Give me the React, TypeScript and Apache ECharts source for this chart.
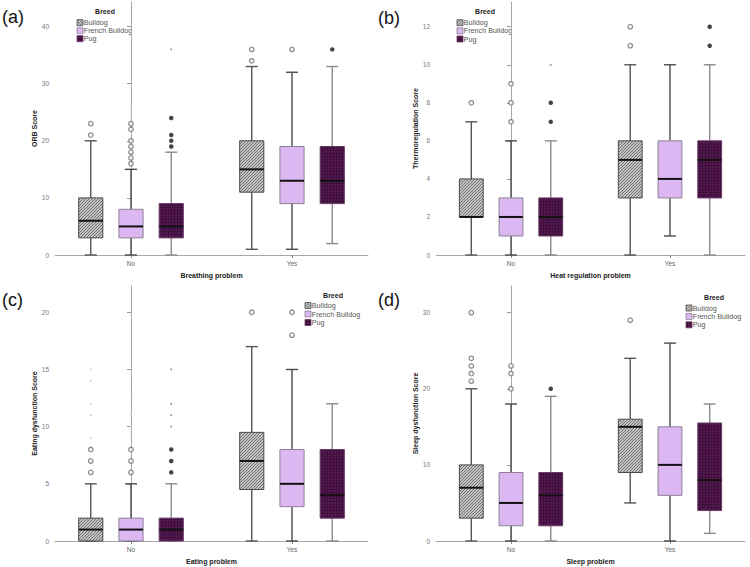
import React, { useEffect, useRef } from 'react';
import * as echarts from 'echarts';

const breeds = ['Bulldog', 'French Bulldog', 'Pug'];
const groups = ['No', 'Yes'];

// Each box: [min whisker, Q1, median, Q3, max whisker], for groups No, Yes
// (a) ORB score
const orbBulldog = [[0, 3, 6, 10, 20], [1, 11, 15, 20, 33]];
const orbFrench = [[0, 3, 5, 8, 15], [1, 9, 13, 19, 32]];
const orbPug = [[0, 3, 5, 9, 18], [2, 9, 13, 19, 33]];
const orbOutliers = [[[21, 23], [34, 36]], [[16, 17, 18, 19, 20, 22, 23], [36]], [[19, 20, 21, 24], [36]]];
const orbExtremes = [[[], []], [[24, 25, 26], []], [[36], []]];
const orbTicks = [0, 10, 20, 30, 40];

// (b) Thermoregulation score
const thermoBulldog = [[0, 2, 2, 4, 7], [0, 3, 5, 6, 10]];
const thermoFrench = [[0, 1, 2, 3, 6], [1, 3, 4, 6, 10]];
const thermoPug = [[0, 1, 2, 3, 6], [0, 3, 5, 6, 10]];
const thermoOutliers = [[[8], [11, 12]], [[7, 8, 9], []], [[7, 8], [11, 12]]];
const thermoExtremes = [[[], []], [[], []], [[10], []]];
const thermoTicks = [0, 2, 4, 6, 8, 10, 12];

// (c) Eating dysfunction score
const eatBulldog = [[0, 0, 1, 2, 5], [0, 4.5, 7, 9.5, 17]];
const eatFrench = [[0, 0, 1, 2, 5], [0, 3, 5, 8, 15]];
const eatPug = [[0, 0, 1, 2, 5], [0, 2, 4, 8, 12]];
const eatOutliers = [[[6, 7, 8], [20]], [[6, 7, 8], [18, 20]], [[6, 7, 8], []]];
const eatExtremes = [[[9, 11, 12, 14, 15], []], [[9, 10, 11, 13], []], [[10, 11, 12, 15], []]];
const eatTicks = [0, 5, 10, 15, 20];

// (d) Sleep dysfunction score
const sleepBulldog = [[0, 3, 7, 10, 20], [5, 9, 15, 16, 24]];
const sleepFrench = [[0, 2, 5, 9, 18], [0, 6, 10, 15, 26]];
const sleepPug = [[0, 2, 6, 9, 19], [1, 4, 8, 15.5, 18]];
const sleepOutliers = [[[21, 22, 23, 24, 30], [29]], [[20, 22, 23], []], [[20], []]];
const sleepExtremes = [[[], []], [[], []], [[], []]];
const sleepTicks = [0, 10, 20, 30];

const panelLetters = ['(a)', '(b)', '(c)', '(d)'];
const yNames = ['ORB Score', 'Thermoregulation Score', 'Eating dysfunction Score', 'Sleep dysfunction Score'];
const xNames = ['Breathing problem', 'Heat regulation problem', 'Eating problem', 'Sleep problem'];
const yMaxes = [44.3, 13.3, 22.3, 33.5];

const panels = [
  { boxes: [orbBulldog, orbFrench, orbPug], outliers: orbOutliers, extremes: orbExtremes, ticks: orbTicks },
  { boxes: [thermoBulldog, thermoFrench, thermoPug], outliers: thermoOutliers, extremes: thermoExtremes, ticks: thermoTicks },
  { boxes: [eatBulldog, eatFrench, eatPug], outliers: eatOutliers, extremes: eatExtremes, ticks: eatTicks },
  { boxes: [sleepBulldog, sleepFrench, sleepPug], outliers: sleepOutliers, extremes: sleepExtremes, ticks: sleepTicks },
];

// layout (pixels)
const grids = [
  { left: 55, top: 2, width: 313, height: 253 },
  { left: 436, top: 2, width: 309, height: 253 },
  { left: 55, top: 286, width: 313, height: 255 },
  { left: 436, top: 286, width: 309, height: 255 },
];
const yNameGaps = [12, 13.5, 12, 13.5];
const letterPos = [[2, 8], [378, 9], [2, 291], [378, 291]];
const legendPos = [
  { sx: 77, tx: 105, ty: 11.7, rows: [22.7, 30.7, 38.7] },
  { sx: 457, tx: 485, ty: 11.7, rows: [22.7, 30.9, 39] },
  { sx: 305, tx: 333, ty: 295.3, rows: [305.5, 314, 322.5] },
  { sx: 686, tx: 714, ty: 297, rows: [308, 316.4, 324.8] },
];

const FONT = "'Liberation Sans', Arial, sans-serif";
const OFFSET = 0.25; // breed offset within a group (x units)
const BOX_W = 0.15; // box width (x units)

export default function App() {
  const ref = useRef<HTMLDivElement>(null);
  useEffect(() => {
    if (!ref.current) return;
    const chart = echarts.init(ref.current, null, { renderer: 'svg' });

    const tile = (size: number, draw: (c: CanvasRenderingContext2D) => void) => {
      const c = document.createElement('canvas');
      c.width = size;
      c.height = size;
      const ctx = c.getContext('2d')!;
      draw(ctx);
      return c;
    };
    const hatch = tile(3, (ctx) => {
      ctx.fillStyle = '#c4c4c4';
      ctx.fillRect(0, 0, 3, 3);
      ctx.fillStyle = '#707070';
      for (let i = 0; i < 3; i++) ctx.fillRect(i, 2 - i, 1, 1);
    });
    const gridTile = tile(3, (ctx) => {
      ctx.fillStyle = '#531a4f';
      ctx.fillRect(0, 0, 3, 3);
      ctx.fillStyle = '#410f3e';
      ctx.fillRect(0, 0, 3, 1);
      ctx.fillRect(0, 0, 1, 3);
    });
    const fills: any[] = [
      { image: hatch, repeat: 'repeat', imageWidth: 3, imageHeight: 3 },
      '#dbb8f2',
      { image: gridTile, repeat: 'repeat', imageWidth: 3, imageHeight: 3 },
    ];
    const boxStroke = ['#4a4a4a', '#8d7f96', '#6a3a66'];
    const whiskerColor = ['#555555', '#4a4a4a', '#8a8a8a'];
    const outlierStyle = [
      { color: '#ffffff', borderColor: '#707070', borderWidth: 1.3 },
      { color: '#ffffff', borderColor: '#707070', borderWidth: 1.3 },
      { color: '#151515', borderColor: '#151515', borderWidth: 0 },
    ];
    const extremeColor = ['#cccccc', '#d8c4dc', '#9c7b99'];

    const xAxis: any[] = [];
    const yAxis: any[] = [];
    const series: any[] = [];
    const graphic: any[] = [];

    panels.forEach((panel, p) => {
      xAxis.push({
        type: 'value',
        gridIndex: p,
        min: -0.472,
        max: 1.472,
        name: xNames[p],
        nameLocation: 'middle',
        nameGap: 16.5,
        nameTextStyle: { fontFamily: FONT, fontSize: 7, fontWeight: 'bold', color: '#222' },
        axisLine: { lineStyle: { color: '#a8a8a8', width: 1 } },
        axisTick: { show: true, length: 3, customValues: [0, 1], lineStyle: { color: '#888' } },
        axisLabel: {
          customValues: [0, 1],
          formatter: (v: number) => groups[Math.round(v)],
          fontFamily: FONT,
          fontSize: 6.5,
          color: '#666',
          margin: 5,
        },
        splitLine: { show: false },
      });
      yAxis.push({
        type: 'value',
        gridIndex: p,
        min: 0,
        max: yMaxes[p],
        name: yNames[p],
        nameLocation: 'middle',
        nameGap: yNameGaps[p],
        nameTextStyle: { fontFamily: FONT, fontSize: 7, fontWeight: 'bold', color: '#222' },
        axisLine: { show: true, lineStyle: { color: '#a8a8a8', width: 1 } },
        axisTick: { show: true, length: 4, customValues: panel.ticks, lineStyle: { color: '#999' } },
        axisLabel: { customValues: panel.ticks, fontFamily: FONT, fontSize: 6.5, color: '#777', margin: 6 },
        splitLine: { show: false },
      });

      panel.boxes.forEach((box, b) => {
        const data = groups.map((_, gi) => [gi + (b - 1) * OFFSET, ...box[gi]]);
        series.push({
          type: 'custom',
          name: breeds[b],
          xAxisIndex: p,
          yAxisIndex: p,
          data,
          encode: { x: 0, y: [1, 2, 3, 4, 5] },
          z: 2,
          renderItem: (_params: any, api: any) => {
            const x = api.value(0);
            const v = [1, 2, 3, 4, 5].map((i) => api.value(i));
            const pt = v.map((val) => api.coord([x, val]));
            const cx = pt[0][0];
            const w = api.size([BOX_W, 0])[0];
            const cap = w / 2;
            const ws = { stroke: whiskerColor[b], lineWidth: 1.4 };
            return {
              type: 'group',
              children: [
                { type: 'line', shape: { x1: cx, y1: pt[0][1], x2: cx, y2: pt[1][1] }, style: ws },
                { type: 'line', shape: { x1: cx, y1: pt[3][1], x2: cx, y2: pt[4][1] }, style: ws },
                { type: 'line', shape: { x1: cx - cap / 2, y1: pt[0][1], x2: cx + cap / 2, y2: pt[0][1] }, style: ws },
                { type: 'line', shape: { x1: cx - cap / 2, y1: pt[4][1], x2: cx + cap / 2, y2: pt[4][1] }, style: ws },
                {
                  type: 'rect',
                  shape: { x: cx - w / 2, y: pt[3][1], width: w, height: pt[1][1] - pt[3][1] },
                  style: { fill: fills[b], stroke: boxStroke[b], lineWidth: 1 },
                },
                {
                  type: 'line',
                  shape: { x1: cx - w / 2, y1: pt[2][1], x2: cx + w / 2, y2: pt[2][1] },
                  style: { stroke: '#111', lineWidth: 2 },
                },
              ],
            };
          },
        });

        const outData: number[][] = [];
        const extData: number[][] = [];
        groups.forEach((_, gi) => {
          panel.outliers[b][gi].forEach((v) => outData.push([gi + (b - 1) * OFFSET, v]));
          panel.extremes[b][gi].forEach((v) => extData.push([gi + (b - 1) * OFFSET, v]));
        });
        series.push({
          type: 'scatter',
          name: breeds[b] + ' outliers',
          xAxisIndex: p,
          yAxisIndex: p,
          data: outData,
          symbol: 'circle',
          symbolSize: 4.5,
          itemStyle: outlierStyle[b],
          z: 3,
        });
        series.push({
          type: 'scatter',
          name: breeds[b] + ' extremes',
          xAxisIndex: p,
          yAxisIndex: p,
          data: extData,
          symbol: 'circle',
          symbolSize: 2.2,
          itemStyle: { color: extremeColor[b] },
          z: 3,
        });
      });

      graphic.push({
        type: 'text',
        left: letterPos[p][0],
        top: letterPos[p][1],
        style: { text: panelLetters[p], fontFamily: FONT, fontSize: 18, fill: '#111' },
      });

      const lp = legendPos[p];
      graphic.push({
        type: 'text',
        x: lp.tx,
        y: lp.ty,
        style: {
          text: 'Breed',
          fontFamily: FONT,
          fontSize: 7,
          fontWeight: 'bold',
          fill: '#222',
          align: 'center',
          verticalAlign: 'middle',
        },
      });
      breeds.forEach((br, b) => {
        graphic.push({
          type: 'rect',
          shape: { x: lp.sx, y: lp.rows[b] - 3, width: 6, height: 6 },
          style: { fill: fills[b], stroke: boxStroke[b], lineWidth: 0.8 },
        });
        graphic.push({
          type: 'text',
          x: lp.sx + 6.8,
          y: lp.rows[b],
          style: { text: br, fontFamily: FONT, fontSize: 7.2, fill: '#555', verticalAlign: 'middle' },
        });
      });
    });

    chart.setOption({
      animation: false,
      backgroundColor: '#ffffff',
      grid: grids.map((g) => ({ ...g, containLabel: false })),
      xAxis,
      yAxis,
      series,
      graphic,
    });
    return () => chart.dispose();
  }, []);

  return (
    <div
      ref={ref}
      style={{ position: 'fixed', left: 0, top: 0, width: 750, height: 567, background: '#fff' }}
    />
  );
}
